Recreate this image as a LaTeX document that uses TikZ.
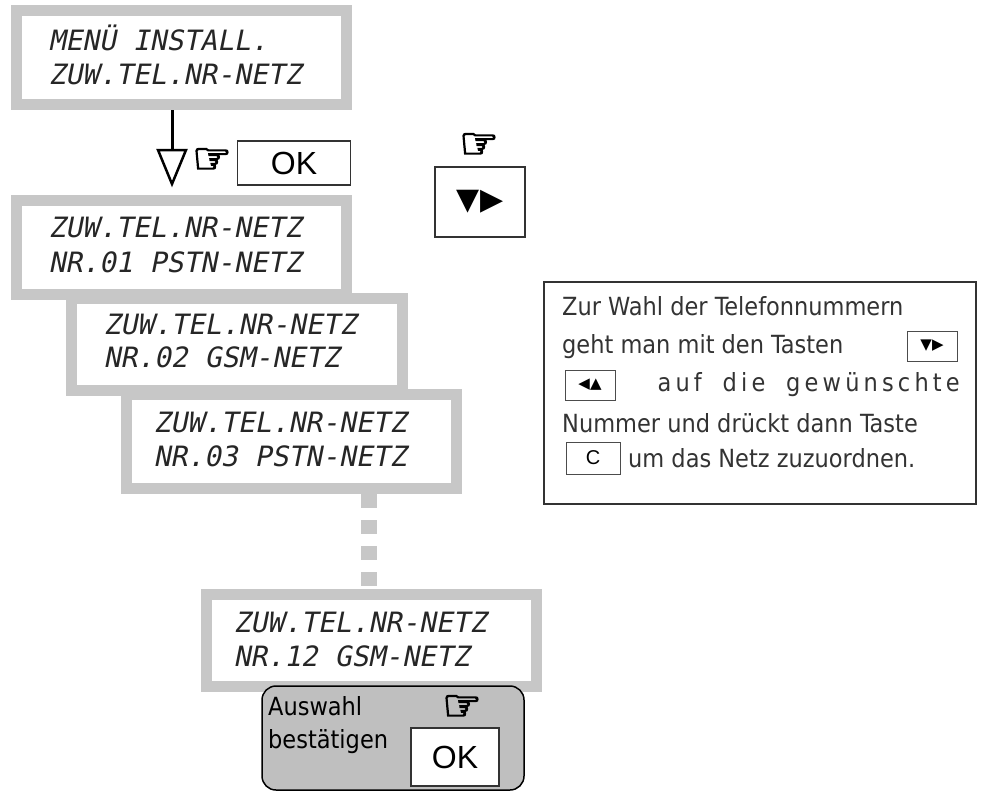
\documentclass[tikz,border=0pt]{standalone}
\usepackage{fontspec}
\setmainfont{DejaVu Sans}
\newfontfamily\lcd[FakeSlant=0.2]{DejaVu Sans Mono}
\newfontfamily\arl{Liberation Sans}
\newfontfamily\dvc{DejaVu Sans Condensed}
\newfontfamily\handf[FakeBold=3]{DejaVu Sans}
\begin{document}
\begin{tikzpicture}[x=1pt,y=-1pt,
 lcdbox/.style={draw=black!22,line width=11pt,fill=white},
 lcdtxt/.style={anchor=west,font=\lcd\fontsize{28}{30}\selectfont,text=black!85},
 key/.style={draw=black!80,line width=1.2pt,fill=white,font=\arl\fontsize{32}{32}\selectfont},
 hand/.style={font=\handf\fontsize{44}{44}\selectfont,inner sep=0pt},
 body/.style={anchor=west,font=\dvc\fontsize{25}{27}\selectfont,text=black!80,inner sep=0pt},
 smallkey/.style={draw=black!70,line width=0.8pt,minimum width=50pt,minimum height=30pt,font=\fontsize{15}{15}\selectfont}]
\useasboundingbox (0,0) rectangle (981,801);
% box 1
\draw[lcdbox] (16,10) rectangle (346,104);
\node[lcdtxt] (t1a) at (45,38) {MENÜ INSTALL.};
\node[lcdtxt] (t1b) at (45,74) {ZUW.TEL.NR-NETZ};
\coordinate (a1) at (172,110);
\coordinate (a2) at (172,150);
\draw[line width=3pt] (a1) -- (a2);
\draw[line width=2.5pt,fill=white,line join=miter] (158,150) -- (186,150) -- (172,184) -- cycle;
\node[hand] (h1) at (212,161) {☞};
\node[key,minimum width=113pt,minimum height=44pt] (ok1) at (294,163) {OK};
% right keys
\node[hand] (h2) at (479,146) {☞};
\node[draw=black!80,line width=1.2pt,minimum width=90pt,minimum height=70pt,font=\fontsize{30}{30}\selectfont] (k2) at (480,202) {▼▶};
% box 2
\draw[lcdbox] (16,200) rectangle (346,294);
\node[lcdtxt] at (45,227) {ZUW.TEL.NR-NETZ};
\node[lcdtxt] at (45,262) {NR.01 PSTN-NETZ};
% box 3
\draw[lcdbox] (71,298) rectangle (402,390);
\node[lcdtxt] at (100,324) {ZUW.TEL.NR-NETZ};
\node[lcdtxt] at (100,357) {NR.02 GSM-NETZ};
% box 4
\draw[lcdbox] (126,394) rectangle (456,488);
\node[lcdtxt] at (150,422) {ZUW.TEL.NR-NETZ};
\node[lcdtxt] at (150,456) {NR.03 PSTN-NETZ};
% dashes
\foreach \y in {494,520,546,572}
  \fill[black!22] (361,\y) rectangle (377,\y+14);
% box 5
\draw[lcdbox] (206,594) rectangle (536,686);
\node[lcdtxt] at (230,622) {ZUW.TEL.NR-NETZ};
\node[lcdtxt] at (230,656) {NR.12 GSM-NETZ};
% confirm box
\draw[line width=1.5pt,fill=black!25,rounded corners=14pt] (262,686) rectangle (524,790);
\node[body,text=black] (aw) at (268,706) {Auswahl};
\node[body,text=black] (bs) at (268,742) {bestätigen};
\node[hand] (h3) at (462,708) {☞};
\node[key,minimum width=88pt,minimum height=58pt] (ok2) at (455,757) {OK};
% info box
\draw[line width=1.5pt,black!80] (544,282) rectangle (976,504);
\node[body] at (562,306) {Zur Wahl der Telefonnummern};
\node[body] at (562,347) {geht man mit den Tasten};
\node[smallkey] at (932,346) {▼▶};
\node[smallkey] at (590,385) {◀▲};
\node[body,anchor=east] at (960,385) {a\,u\,f\;\;\;d\,i\,e\;\;\;g\,e\,w\,ü\,n\,s\,c\,h\,t\,e};
\node[body] at (562,423) {Nummer und drückt dann Taste};
\node[smallkey,minimum width=54pt,minimum height=32pt,font=\arl\fontsize{20}{20}\selectfont] at (593,458) {C};
\node[body] at (628,458) {um das Netz zuzuordnen.};
\end{tikzpicture}
\end{document}
